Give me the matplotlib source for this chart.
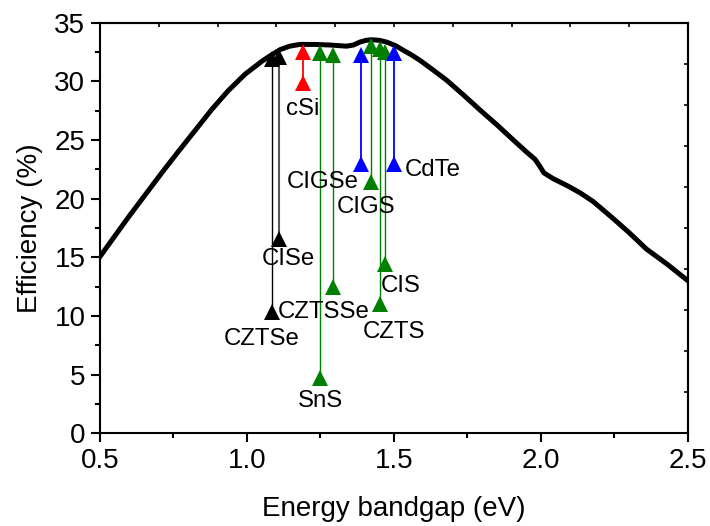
import matplotlib
matplotlib.use("Agg")
import matplotlib.pyplot as plt
import numpy as np

plt.rcParams['font.family'] = ['Liberation Sans', 'DejaVu Sans']

# Shockley-Queisser limit curve
curve_x = [0.5, 0.596, 0.653, 0.710, 0.766, 0.823, 0.880, 0.936, 0.993, 1.050,
           1.080, 1.112, 1.145, 1.180, 1.230, 1.282, 1.339, 1.362, 1.384, 1.405,
           1.424, 1.450, 1.475, 1.505, 1.532, 1.560, 1.588, 1.633, 1.679, 1.736,
           1.793, 1.850, 1.906, 1.950, 1.980, 1.995, 2.010, 2.042, 2.090, 2.133,
           2.178, 2.246, 2.300, 2.359, 2.430, 2.5]
curve_y = [15.06, 18.4, 20.3, 22.2, 24.0, 25.8, 27.6, 29.2, 30.6, 31.7,
           32.2, 32.7, 33.0, 33.15, 33.15, 33.1, 33.0, 33.1, 33.35, 33.5,
           33.55, 33.5, 33.35, 33.05, 32.65, 32.25, 31.8, 30.97, 30.1, 28.85,
           27.55, 26.3, 25.0, 24.0, 23.35, 22.8, 22.2, 21.7, 21.1, 20.5,
           19.75, 18.3, 17.1, 15.7, 14.4, 13.0]

# Materials: bandgap, record efficiency, limit
materials = ['CZTSe', 'CISe', 'cSi', 'SnS', 'CZTSSe', 'CIGSe', 'CIGS', 'CZTS', 'CIS', 'CdTe']
bandgaps = [1.084, 1.110, 1.192, 1.248, 1.293, 1.388, 1.421, 1.453, 1.470, 1.500]
record_eff = [10.3, 16.56, 29.9, 4.7, 12.5, 22.96, 21.45, 11.05, 14.4, 22.96]
limit_eff = [31.95, 32.05, 32.5, 32.4, 32.25, 32.25, 33.05, 32.8, 32.5, 32.4]
colors = ['#000000', '#555555', '#ff0000', '#008000', '#008000', '#0000ff',
          '#008000', '#008000', '#008000', '#0000ff']
line_widths = [1.0, 1.5, 1.3, 1.0, 1.0, 1.3, 1.0, 1.0, 1.0, 1.3]

# Label positions (x, baseline y)
label_x = [1.050, 1.141, 1.190, 1.251, 1.262, 1.2565, 1.404, 1.500, 1.523, 1.633]
label_y = [7.53, 14.35, 27.14, 2.27, 9.80, 20.89, 18.76, 8.10, 12.07, 21.94]

fig = plt.figure(figsize=(7.1, 5.26), dpi=100)
ax = fig.add_axes([0.1408, 0.1762, 0.969 - 0.1408, 0.9568 - 0.1762])

ax.plot(curve_x, curve_y, color='black', lw=3.6, solid_joinstyle='round', zorder=2)

for bg, lo, hi, c, lw in zip(bandgaps, record_eff, limit_eff, colors, line_widths):
    mc = '#000000' if c == '#555555' else c
    ax.plot([bg, bg], [lo, hi], color=c, lw=lw, zorder=3)
    ax.plot([bg, bg], [lo, hi], ls='none', marker='^', ms=11, color=mc,
            markeredgewidth=0, zorder=4)

for name, lx, ly in zip(materials, label_x, label_y):
    ax.text(lx, ly, name, fontsize=17.3, ha='center', va='baseline', zorder=5)

ax.set_xlim(0.5, 2.5)
ax.set_ylim(0, 35)
ax.set_xticks(np.arange(0.5, 2.51, 0.5))
ax.set_xticks(np.arange(0.75, 2.5, 0.5), minor=True)
ax.set_yticks(np.arange(0, 35.1, 5))
ax.set_yticks(np.arange(2.5, 35, 5), minor=True)
ax.set_xticklabels(['0.5', '1.0', '1.5', '2.0', '2.5'])

for s in ax.spines.values():
    s.set_linewidth(1.5)

ax.tick_params(which='major', direction='out', length=6.5, width=1.5, labelsize=20, pad=4)
ax.tick_params(which='minor', direction='out', length=3.5, width=1.5)
ax.tick_params(top=False, right=False, which='both')

# top / right ticks (inward, small)
axt = ax.secondary_xaxis('top')
axt.set_xticks(np.arange(0.5, 2.51, 0.2))
axt.tick_params(direction='in', length=3, width=1.2, labeltop=False)
axt.spines['top'].set_linewidth(1.5)
axr = ax.secondary_yaxis('right')
axr.set_yticks(np.arange(0, 35.1, 3.5))
axr.tick_params(direction='in', length=3, width=1.2, labelright=False)
axr.spines['right'].set_linewidth(1.5)

ax.set_xlabel('Energy bandgap (eV)', fontsize=20, labelpad=16)
ax.set_ylabel('Efficiency (%)', fontsize=20, labelpad=8)

fig.savefig('out.png', dpi=100)
